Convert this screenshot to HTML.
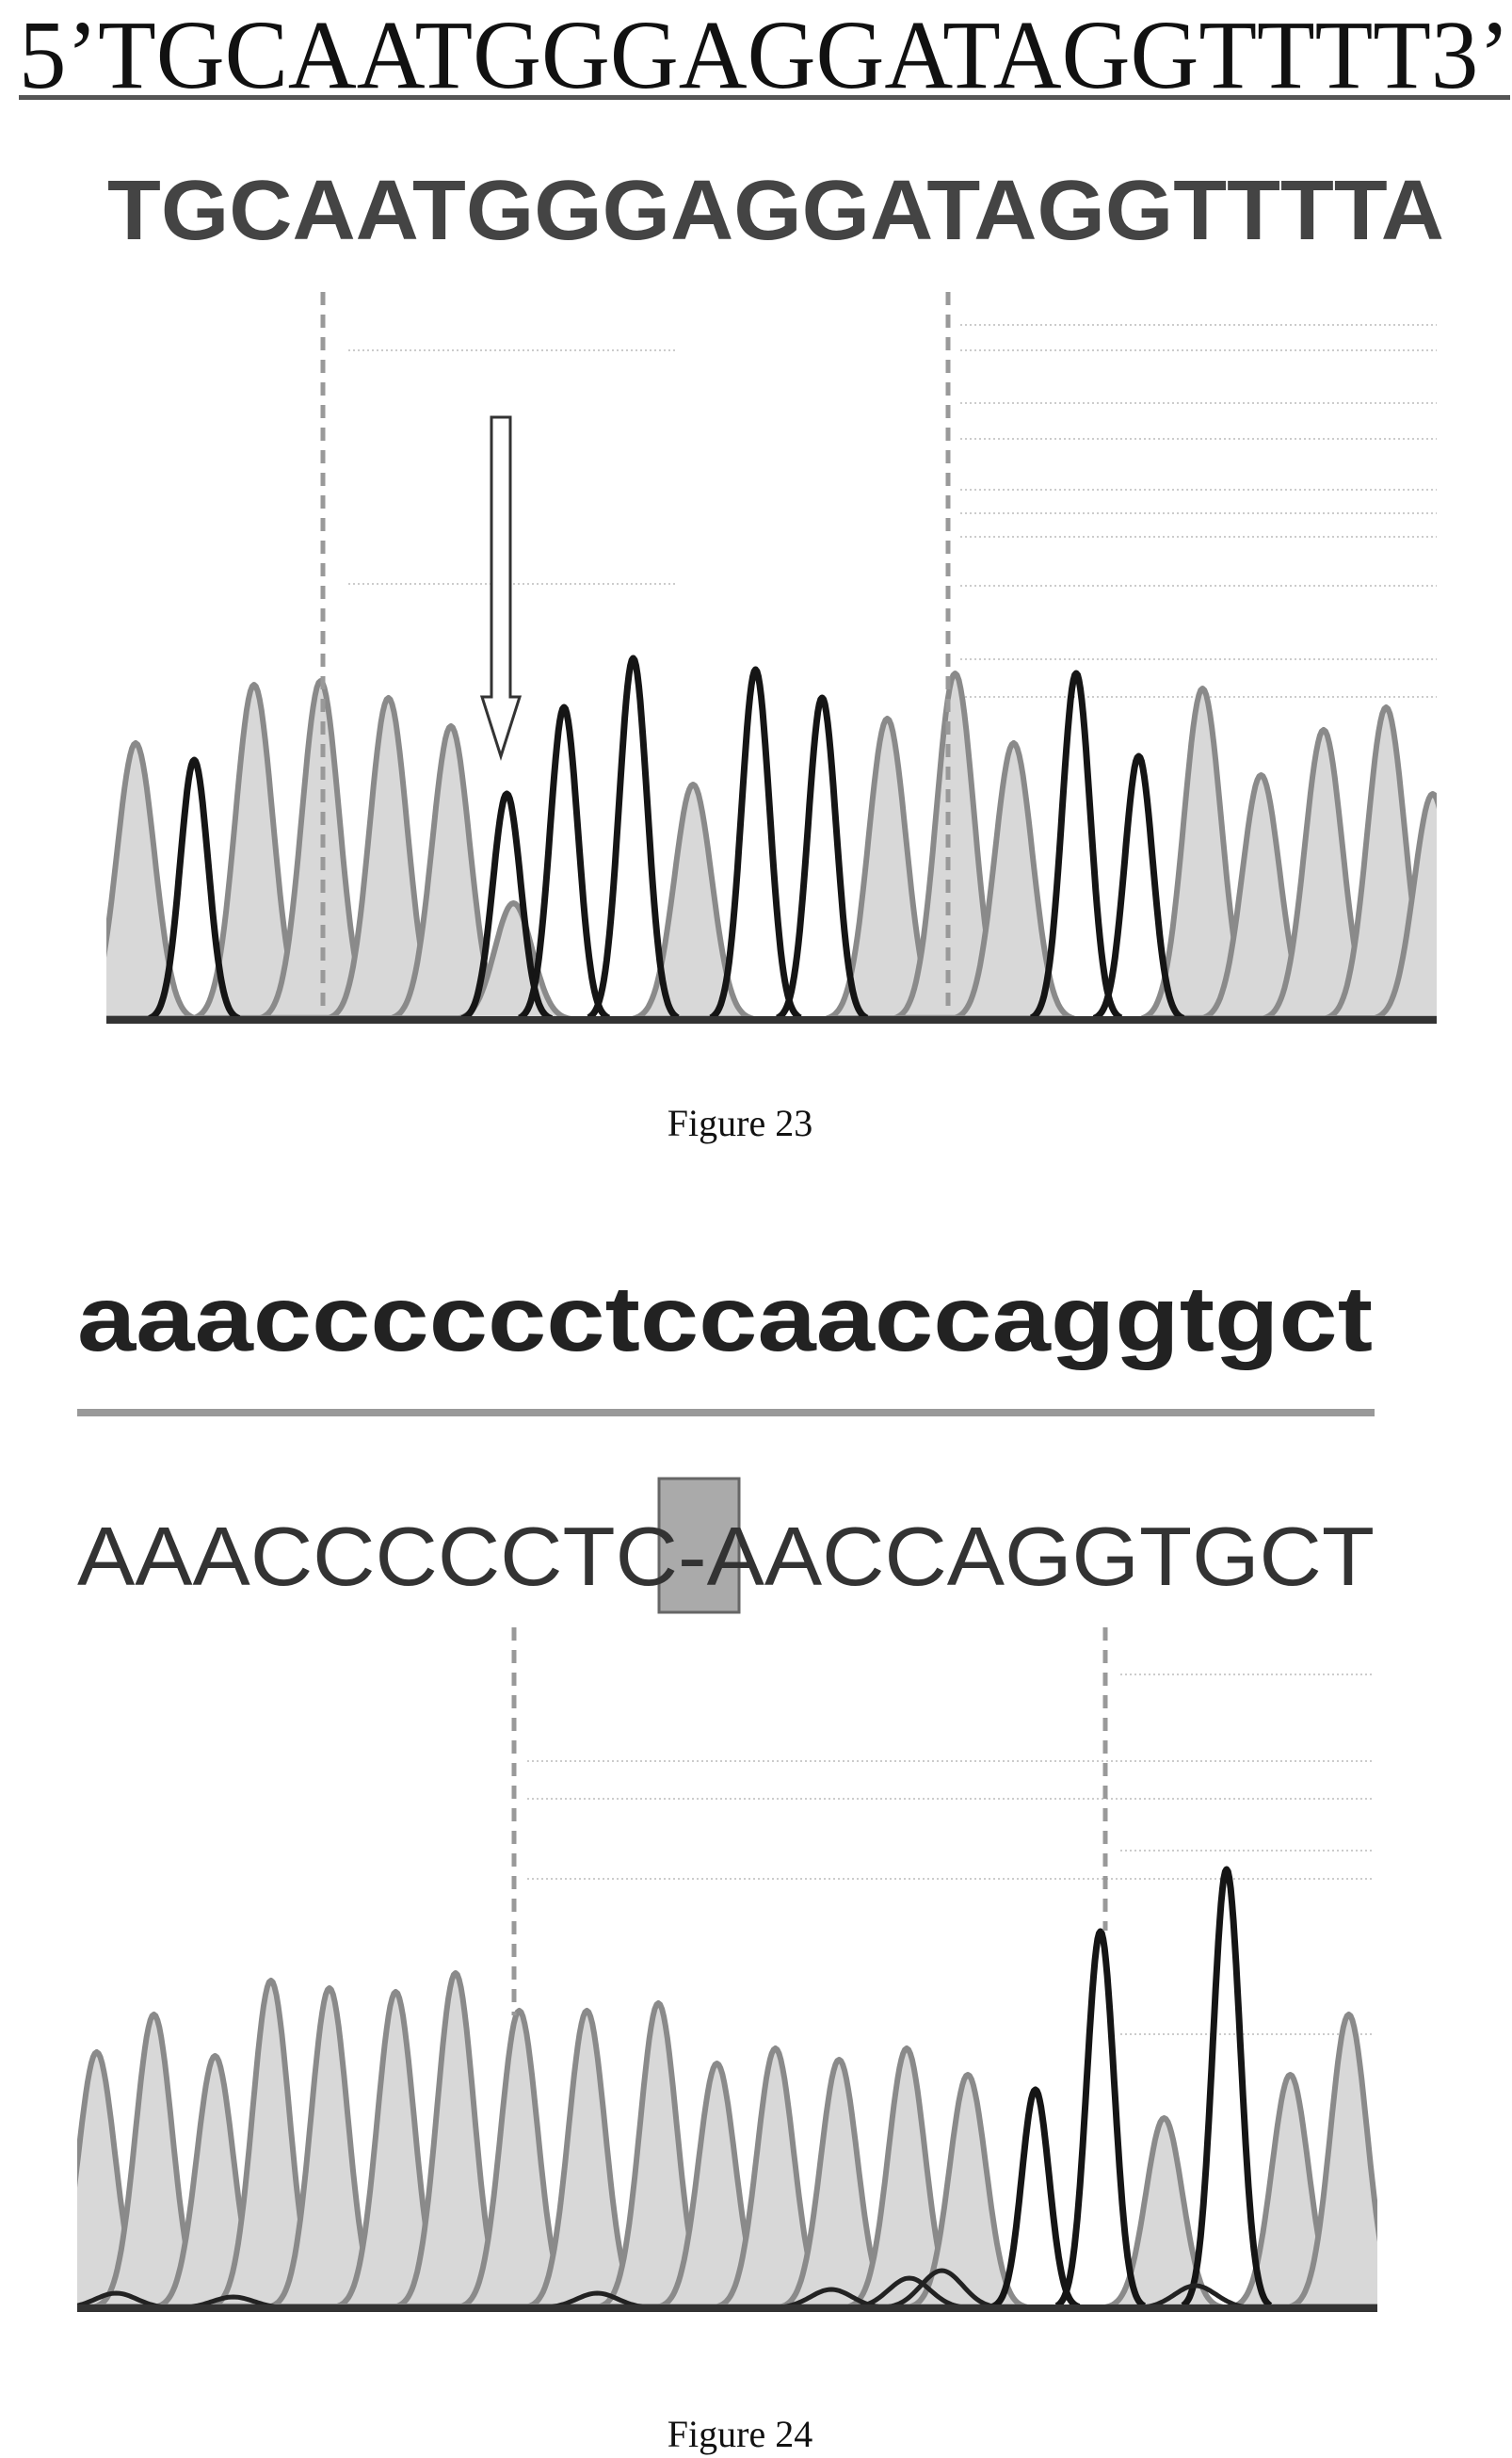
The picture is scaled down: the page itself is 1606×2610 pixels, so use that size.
<!DOCTYPE html>
<html><head><meta charset="utf-8"><style>
html,body{margin:0;padding:0;background:#fff;}
svg{display:block;}
</style></head><body>
<svg id="fig" width="1606" height="2610" viewBox="0 0 1606 2610" xmlns="http://www.w3.org/2000/svg">
<defs>
<clipPath id="clip23"><rect x="113" y="300" width="1413" height="800"/></clipPath>
<clipPath id="clip24"><rect x="82" y="1700" width="1381" height="770"/></clipPath>
</defs>
<g>
<text x="20" y="93" font-family="Liberation Serif, serif" font-size="104" textLength="1584" lengthAdjust="spacingAndGlyphs" fill="#111">5’TGCAATGGGAGGATAGGTTTT3’</text>
<rect x="20" y="101" width="1584" height="5" fill="#555"/>
<text x="114" y="254" font-family="Liberation Sans, sans-serif" font-weight="bold" font-size="90" textLength="1420" lengthAdjust="spacingAndGlyphs" fill="#444">TGCAATGGGAGGATAGGTTTTA</text>
<g id="grid23"></g>
<g id="chrom23"></g>
<line x1="343" y1="310" x2="343" y2="1070" stroke="#999" stroke-width="5" stroke-dasharray="14,10"/>
<line x1="1007" y1="310" x2="1007" y2="1070" stroke="#999" stroke-width="5" stroke-dasharray="14,10"/>
<path d="M522,443 L542,443 L542,740 L552,740 L532,803 L512,740 L522,740 Z" fill="#fff" stroke="#333" stroke-width="3"/>
<text x="786" y="1206" text-anchor="middle" font-family="Liberation Serif, serif" font-size="40" fill="#111">Figure 23</text>
</g>
<g>
<text x="82" y="1434" font-family="Liberation Sans, sans-serif" font-weight="bold" font-size="98" textLength="1376" lengthAdjust="spacingAndGlyphs" fill="#222">aaacccccctccaaccaggtgct</text>
<rect x="82" y="1496" width="1378" height="8" fill="#999"/>
<rect x="700" y="1570" width="85" height="142" fill="#aaa" stroke="#666" stroke-width="3"/>
<text x="82" y="1683" font-family="Liberation Sans, sans-serif" font-size="88" textLength="1378" lengthAdjust="spacingAndGlyphs" fill="#333">AAACCCCCTC-AACCAGGTGCT</text>
<g id="grid24"></g>
<g id="chrom24"></g>
<line x1="546" y1="1728" x2="546" y2="2140" stroke="#999" stroke-width="5" stroke-dasharray="14,10"/>
<line x1="1174" y1="1728" x2="1174" y2="2050" stroke="#999" stroke-width="5" stroke-dasharray="14,10"/>
<text x="786" y="2598" text-anchor="middle" font-family="Liberation Serif, serif" font-size="40" fill="#111">Figure 24</text>
</g>
</svg>
<script>
// Figure 23 chromatogram data (time units 0-100, signal units)
var times23 = [2.2,6.6,11.1,16.1,21.2,25.9,30.1,30.6,34.4,39.6,44.1,48.8,53.8,58.7,63.8,68.2,72.9,77.6,82.4,86.8,91.5,96.2,99.7];
var heights23 = [73.5,69,89,90,85.5,78,60,31,83,96,62.5,93,85.5,80,92,73.5,92,70,88,65,77,83,60];
var colors23 = ['g','k','g','g','g','g','k','g','k','k','g','k','k','g','g','g','k','k','g','g','g','g','g'];
// Figure 24 chromatogram data
var times24 = [1.5,5.9,10.6,14.9,19.4,24.5,29.1,34.0,39.2,44.7,49.2,53.7,58.6,63.8,68.5,73.7,78.7,83.6,88.4,93.3,97.8];
var heights24 = [68,78,67,87,85,84,89,79,79,81,65,69,66,69,62,58,100,50.5,116.5,62,78];
var colors24 = ['g','g','g','g','g','g','g','g','g','g','g','g','g','g','g','k','k','g','k','g','g'];
var humpTimes24 = [3,12,40,58,64,66.5,86];
var humpHeights24 = [4,3,4,5,8,10,6];

var NS='http://www.w3.org/2000/svg';
function mk(tag, attrs, parent){var e=document.createElementNS(NS,tag);for(var k in attrs)e.setAttribute(k,attrs[k]);parent.appendChild(e);return e;}

function drawChrom(gid, clipId, x0, x1, base, times, heights, colors, humpT, humpH){
  var outer=document.getElementById(gid);
  var g=mk('g',{'clip-path':'url(#'+clipId+')'},outer);
  
  
  var xs=function(t){return x0+(x1-x0)*t/100;};
  var ys=function(v){return base-v*4;};
  function peakPath(t,h,sig){
    var d='';
    for(var dt=-3.2*sig;dt<=3.2*sig+1e-9;dt+=sig/10){
      var tt=t+dt;
      var v=h*Math.exp(-dt*dt/(2*sig*sig));
      d+=(d?'L':'M')+xs(tt).toFixed(1)+','+ys(v).toFixed(1);
    }
    return d;
  }
  for(var i=0;i<times.length;i++){
    if(colors[i]!=='g') continue;
    var p=mk('path',{d:peakPath(times[i],heights[i],1.4)+'Z',fill:'#d8d8d8',stroke:'#8a8a8a','stroke-width':6,'stroke-linejoin':'round'},g);
    
    
  }
  for(var j=0;j<times.length;j++){
    if(colors[j]!=='k') continue;
    var q=mk('path',{d:peakPath(times[j],heights[j],1.05),fill:'none',stroke:'#151515','stroke-width':7,'stroke-linejoin':'round'},g);
    
    
  }
  if(humpT){
    for(var m=0;m<humpT.length;m++){
      var hh=mk('path',{d:peakPath(humpT[m],humpH[m],1.6),fill:'none',stroke:'#222','stroke-width':5},g);
      
      
    }
  }
  var bl=mk('line',{x1:x0,y1:base,x2:x1,y2:base,stroke:'#333','stroke-width':8},outer);
  
  
}

function guides(gid, xl, xr, ys){
  var g=document.getElementById(gid);
  for(var i=0;i<ys.length;i++){
    var l=mk('line',{x1:xl,y1:ys[i],x2:xr,y2:ys[i],stroke:'#bbb','stroke-width':1.5,'stroke-dasharray':'2,3'},g);
    
    
  }
}
guides('grid23',1020,1526,[345,372,428,466,520,545,570,622,700,740]);
guides('grid23',370,720,[372,620]);
guides('grid24',560,1460,[1870,1910,1995]);
guides('grid24',1190,1460,[1778,1965,2160]);

drawChrom('chrom23','clip23',113,1526,1083,times23,heights23,colors23);
drawChrom('chrom24','clip24',82,1463,2451,times24,heights24,colors24,humpTimes24,humpHeights24);
</script>
</body></html>
